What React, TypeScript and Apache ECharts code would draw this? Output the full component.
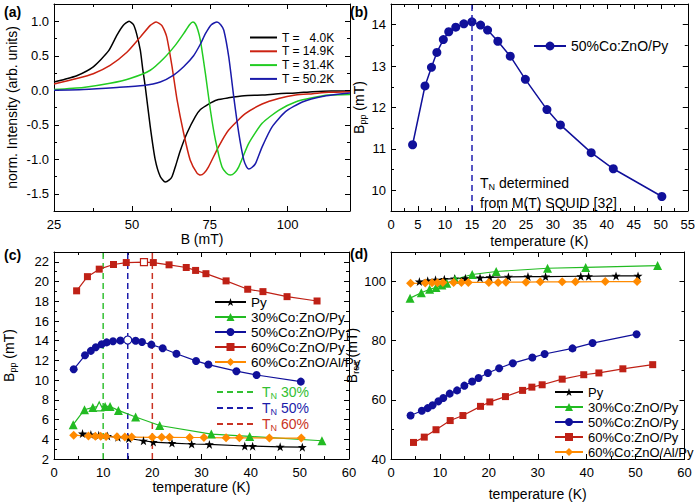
import React, { useEffect, useRef } from 'react';
import * as echarts from 'echarts';

// ---------- Panel (a): normalized FMR spectra ----------
const b4K = [25, 28.5, 32.3, 37.6, 42.5, 45.2, 47.2, 49.1, 50.5, 51.5, 52.7, 53.5, 54.3, 55.9, 57.5, 59.1, 60.7, 62.0, 62.9, 64.0, 65.5, 67.7, 70.4, 72.0, 74.6, 77.3, 81.0, 86.0, 91.8, 97.0, 102.5, 108, 114, 120];
const i4K = [0.12, 0.16, 0.21, 0.34, 0.57, 0.80, 0.94, 1.00, 0.95, 0.82, 0.58, 0.30, 0.05, -0.53, -1.01, -1.25, -1.33, -1.30, -1.25, -1.10, -0.88, -0.62, -0.38, -0.28, -0.20, -0.14, -0.11, -0.08, -0.07, -0.05, -0.04, -0.02, -0.01, -0.01];
const b15K = [25, 32.3, 37.6, 43.0, 48.4, 52.7, 55.9, 57.8, 59.6, 60.5, 61.2, 62.0, 62.9, 64.5, 66.6, 68.7, 70.9, 72.0, 73.2, 74.6, 77.8, 81.0, 86.4, 91.8, 97.1, 102.5, 108, 113.2, 120];
const i15K = [0.09, 0.17, 0.24, 0.36, 0.55, 0.77, 0.94, 0.99, 0.94, 0.86, 0.77, 0.58, 0.34, -0.14, -0.62, -1.01, -1.20, -1.23, -1.20, -1.11, -0.82, -0.58, -0.34, -0.20, -0.12, -0.07, -0.05, -0.03, -0.02];
const b31K = [25, 34.4, 43.0, 49.4, 55.9, 60.2, 63.9, 66.6, 68.5, 69.6, 70.4, 71.2, 72.0, 73.6, 75.2, 76.8, 78.9, 80.3, 81.6, 82.9, 84.3, 87.5, 91.8, 97.1, 102.5, 107.9, 113.2, 120];
const i31K = [0.01, 0.04, 0.10, 0.17, 0.29, 0.46, 0.65, 0.82, 0.95, 0.99, 0.96, 0.87, 0.72, 0.24, -0.29, -0.72, -1.11, -1.20, -1.23, -1.20, -1.11, -0.77, -0.48, -0.29, -0.17, -0.11, -0.07, -0.06];
const b50K = [25, 34.4, 45.2, 53.7, 59.1, 63.4, 66.6, 69.8, 72.0, 73.6, 75.5, 77.3, 78.5, 79.5, 81.1, 82.7, 84.3, 85.9, 86.8, 87.5, 88.5, 89.7, 91.8, 95.0, 99.3, 104.7, 111.1, 120];
const i50K = [0.00, 0.01, 0.04, 0.07, 0.12, 0.22, 0.34, 0.50, 0.67, 0.82, 0.95, 0.99, 0.95, 0.87, 0.48, -0.10, -0.62, -1.01, -1.11, -1.14, -1.12, -1.06, -0.82, -0.53, -0.31, -0.17, -0.09, -0.04];
const spectraNames = ['T =\u00a0\u00a0\u00a04.0K', 'T = 14.9K', 'T = 31.4K', 'T = 50.2K'];

// ---------- Panels (b)-(d): temperature dependences ----------
const temp50 = [4.0, 6.3, 7.5, 8.5, 9.7, 10.7, 12.0, 13.5, 15.0, 16.6, 17.9, 19.8, 22.1, 24.9, 28.9, 31.4, 37.1, 41.2, 50.2];
const bpp50 = [11.10, 12.52, 12.97, 13.33, 13.64, 13.83, 13.94, 14.02, 14.07, 13.99, 13.87, 13.60, 13.24, 12.68, 11.95, 11.58, 10.91, 10.52, 9.85];
const bres50 = [54.7, 56.3, 57.2, 58.2, 59.5, 60.6, 62.1, 63.2, 64.8, 66.2, 67.4, 69.1, 70.7, 72.4, 74.3, 75.5, 77.4, 79.2, 82.2];

const tempPy = [5.8, 7.5, 9.1, 10.9, 13.0, 15.2, 18.2, 20.2, 24.0, 28.0, 31.6, 38.8, 40.4, 46.0, 50.5];
const bppPy = [4.58, 4.48, 4.40, 4.33, 4.20, 4.08, 3.85, 3.72, 3.62, 3.52, 3.48, 3.32, 3.30, 3.24, 3.20];
const bresPy = [100.0, 100.3, 100.6, 100.8, 101.0, 101.1, 101.3, 101.4, 101.6, 101.7, 101.7, 101.8, 101.8, 101.9, 101.9];

const temp30 = [3.9, 6.2, 7.9, 9.2, 10.4, 11.4, 13.1, 16.6, 21.5, 32.0, 39.8, 54.5];
const bpp30 = [5.48, 7.00, 7.23, 7.33, 7.33, 7.33, 6.93, 6.26, 5.40, 4.53, 4.29, 3.85];
const bres30 = [94.4, 96.2, 97.4, 98.0, 98.8, 99.4, 100.8, 102.4, 103.4, 104.5, 104.8, 105.4];

const temp60 = [4.6, 6.8, 9.2, 12.1, 14.7, 18.3, 20.2, 23.4, 26.9, 28.8, 30.9, 35.0, 39.4, 42.5, 47.4, 53.5];
const bpp60 = [19.06, 20.50, 21.26, 21.73, 21.93, 21.97, 21.93, 21.70, 21.43, 21.13, 20.80, 20.07, 19.22, 18.98, 18.47, 18.03];
const bres60 = [45.6, 47.4, 49.9, 53.0, 54.7, 57.8, 59.3, 61.1, 63.2, 64.3, 65.1, 67.0, 68.5, 69.1, 70.5, 71.9];

const tempAl = [4.0, 7.0, 8.4, 9.5, 10.6, 12.8, 14.4, 15.8, 20.0, 21.9, 23.5, 27.6, 30.5, 35.0, 37.7, 43.8, 50.3];
const bppAl = [4.42, 4.33, 4.30, 4.30, 4.28, 4.25, 4.22, 4.22, 4.20, 4.20, 4.20, 4.18, 4.18, 4.15, 4.15, 4.12, 4.12];
const bresAl = [99.4, 99.5, 99.6, 99.6, 99.7, 99.7, 99.7, 99.7, 99.7, 99.7, 99.8, 99.8, 99.9, 99.9, 99.9, 100.0, 100.0];

// open (maximum) markers in panel (c)
const open30 = 3;
const open50 = 8;
const open60 = 5;

// Neel temperatures
const tnTemps = [10, 15, 20];
const tnNames = ['TN30', 'TN50', 'TN60'];
const tnLabels = ['30%', '50%', '60%'];
const tnB = 15;

const seriesNames = ['Py', '30%Co:ZnO/Py', '50%Co:ZnO/Py', '60%Co:ZnO/Py', '60%Co:ZnO/Al/Py'];

// tick labels
const ticksAx = [25, 50, 75, 100];
const ticksAy = [-1.5, -1.0, -0.5, 0.0, 0.5, 1.0];
const ticksBx = [0, 5, 10, 15, 20, 25, 30, 35, 40, 45, 50, 55];
const ticksBy = [10, 11, 12, 13, 14];
const ticksCx = [0, 10, 20, 30, 40, 50, 60];
const ticksCy = [2, 4, 6, 8, 10, 12, 14, 16, 18, 20, 22];
const ticksDy = [40, 60, 80, 100];

const FONT = "'Liberation Sans', Arial, Helvetica, sans-serif";
const C_BLACK = '#000000';
const C_GREEN = '#22bb22';
const C_BLUE = '#10109a';
const C_RED = '#bf2116';
const C_ORANGE = '#ff8a00';
const STAR = 'path://M50,2 L61.8,38.2 L100,38.2 L69.1,61.8 L80.9,98 L50,75.6 L19.1,98 L30.9,61.8 L0,38.2 L38.2,38.2 Z';

const subRich = {
  m: { fontSize: 14, fontFamily: FONT, color: '#000', lineHeight: 16 },
  s: { fontSize: 9, fontFamily: FONT, color: '#000', lineHeight: 8, verticalAlign: 'bottom' },
};

function buildAxes(dim: 'x' | 'y', grid: number, min: number, max: number, minor: number, majors: number[], fmt: (v: number) => string, nameOpt: any) {
  const positions = dim === 'x' ? ['bottom', 'top'] : ['left', 'right'];
  const isMajor = (v: number) => majors.some((m) => Math.abs(m - v) < 1e-6);
  const axes: any[] = [];
  positions.forEach((p, side) => {
    axes.push({
      type: 'value', gridIndex: grid, position: p, min, max, interval: minor,
      axisLine: { show: true, onZero: false, lineStyle: { color: '#000', width: 1 } },
      axisTick: { show: true, inside: true, length: 3, lineStyle: { color: '#000', width: 1 } },
      splitLine: { show: false },
      axisLabel: side === 0
        ? { show: true, color: '#000', fontSize: 13, fontFamily: FONT, margin: dim === 'x' ? 7 : 5, formatter: (v: number) => (isMajor(v) ? fmt(v) : '') }
        : { show: false },
      ...(side === 0 ? nameOpt : {}),
    });
    axes.push({
      type: 'value', gridIndex: grid, position: p, min, max, interval: minor,
      axisLine: { show: false, onZero: false },
      axisTick: { show: true, inside: true, length: 5, customValues: majors, lineStyle: { color: '#000', width: 1 } },
      axisLabel: { show: false },
      splitLine: { show: false },
    });
  });
  return axes;
}

const xName = (name: string, gap: number) => ({
  name, nameLocation: 'middle', nameGap: gap,
  nameTextStyle: { color: '#000', fontSize: 14, fontFamily: FONT },
});
const yName = (name: string, gap: number) => ({
  name, nameLocation: 'middle', nameGap: gap,
  nameTextStyle: { color: '#000', fontSize: 14, fontFamily: FONT, rich: subRich },
});

const pairs = (xs: number[], ys: number[]) => xs.map((x, i) => [x, ys[i]]);
const pairsOpen = (xs: number[], ys: number[], openIdx: number, color: string) =>
  xs.map((x, i) => (i === openIdx ? { value: [x, ys[i]], itemStyle: { color: '#ffffff', borderColor: color, borderWidth: 1.2 } } : [x, ys[i]]));

function pointSeries(name: string, panel: number, data: any[], symbol: string, size: number, color: string, lw = 1.2) {
  return {
    type: 'line', name, xAxisIndex: panel * 4, yAxisIndex: panel * 4, data,
    symbol, symbolSize: size, showSymbol: true,
    lineStyle: { color, width: lw }, itemStyle: { color },
    emphasis: { disabled: true }, z: 3,
  };
}

function spectrum(name: string, xs: number[], ys: number[], color: string) {
  return {
    type: 'line', name, xAxisIndex: 0, yAxisIndex: 0, data: pairs(xs, ys),
    symbol: 'none', showSymbol: false, smooth: 0.2,
    lineStyle: { color, width: 1.5 }, itemStyle: { color },
    emphasis: { disabled: true },
  };
}

const tnColors = ['#33c033', '#1c1caa', '#c93324'];
const tnTextKeys = ['g', 'b', 'r'];

function buildOption() {
  const xAxis = [
    ...buildAxes('x', 0, 25, 120, 12.5, ticksAx, (v) => String(v), xName('B (mT)', 21)),
    ...buildAxes('x', 1, 0, 55, 2.5, ticksBx, (v) => String(v), xName('temperature (K)', 23)),
    ...buildAxes('x', 2, 0, 60, 5, ticksCx, (v) => String(v), xName('temperature (K)', 20)),
    ...buildAxes('x', 3, 0, 60, 5, ticksCx, (v) => String(v), xName('temperature (K)', 28)),
  ];
  const yAxis = [
    ...buildAxes('y', 0, -1.75, 1.25, 0.25, ticksAy, (v) => v.toFixed(1), {
      name: 'norm. Intensity (arb. units)', nameLocation: 'middle', nameGap: 35,
      nameTextStyle: { color: '#000', fontSize: 14, fontFamily: FONT },
    }),
    ...buildAxes('y', 1, 9.5, 14.5, 0.5, ticksBy, (v) => String(v), yName('{m|B}{s|pp}{m| (mT)}', 24)),
    ...buildAxes('y', 2, 2, 23, 1, ticksCy, (v) => String(v), yName('{m|B}{s|pp}{m| (mT)}', 37)),
    ...buildAxes('y', 3, 40, 110, 10, ticksDy, (v) => String(v), yName('{m|B}{s|res}{m| (mT)}', 27)),
  ];

  const tnSeries = tnTemps.map((t, i) => ({
    type: 'line', name: tnNames[i], xAxisIndex: 8, yAxisIndex: 8,
    data: [[t, 2], [t, 23]], symbol: 'none', showSymbol: false,
    lineStyle: { color: tnColors[i], width: 1.5, type: [6, 4] }, itemStyle: { color: tnColors[i] },
    emphasis: { disabled: true }, z: 2,
  }));

  const series: any[] = [
    spectrum(spectraNames[0], b4K, i4K, '#000000'),
    spectrum(spectraNames[1], b15K, i15K, '#cc2211'),
    spectrum(spectraNames[2], b31K, i31K, '#22cc22'),
    spectrum(spectraNames[3], b50K, i50K, '#1a1aaa'),
    {
      ...pointSeries(seriesNames[2], 1, pairs(temp50, bpp50), 'circle', 9, C_BLUE, 1.5),
      markLine: {
        silent: true, symbol: ['none', 'none'], label: { show: false },
        lineStyle: { color: '#1f1fb0', width: 1.5, type: [6, 4] },
        data: [{ xAxis: tnB }],
      },
    },
    ...tnSeries,
    pointSeries(seriesNames[0], 2, pairs(tempPy, bppPy), STAR, 9, C_BLACK),
    pointSeries(seriesNames[1], 2, pairsOpen(temp30, bpp30, open30, C_GREEN), 'triangle', 9, C_GREEN),
    pointSeries(seriesNames[2], 2, pairsOpen(temp50, bpp50, open50, C_BLUE), 'circle', 8, C_BLUE),
    pointSeries(seriesNames[3], 2, pairsOpen(temp60, bpp60, open60, C_RED), 'rect', 7, C_RED),
    pointSeries(seriesNames[4], 2, pairs(tempAl, bppAl), 'diamond', 9, C_ORANGE),
    pointSeries(seriesNames[0], 3, pairs(tempPy, bresPy), STAR, 9, C_BLACK),
    pointSeries(seriesNames[1], 3, pairs(temp30, bres30), 'triangle', 9, C_GREEN),
    pointSeries(seriesNames[2], 3, pairs(temp50, bres50), 'circle', 8, C_BLUE),
    pointSeries(seriesNames[3], 3, pairs(temp60, bres60), 'rect', 7, C_RED),
    pointSeries(seriesNames[4], 3, pairs(tempAl, bresAl), 'diamond', 9, C_ORANGE),
  ];

  const legendText = { color: '#000', fontSize: 13.5, fontFamily: FONT, lineHeight: 14 };
  const tnRich: any = {};
  tnTextKeys.forEach((k, i) => {
    tnRich[k] = { fontSize: 14, fontFamily: FONT, color: tnColors[i], lineHeight: 16 };
    tnRich[k + 's'] = { fontSize: 9, fontFamily: FONT, color: tnColors[i], lineHeight: 8, verticalAlign: 'bottom' };
  });

  const legend = [
    {
      left: 244, top: 26.5, orient: 'vertical', itemWidth: 27, itemHeight: 10, itemGap: 1.8,
      selectedMode: false, data: spectraNames,
      itemStyle: { opacity: 0 },
      textStyle: { color: '#000', fontSize: 12, fontFamily: FONT, lineHeight: 12 },
    },
    {
      left: 528, top: 34, orient: 'vertical', itemWidth: 32, itemHeight: 11,
      selectedMode: false, data: [seriesNames[2]], textStyle: { ...legendText, fontSize: 14 },
    },
    {
      left: 209, top: 290, orient: 'vertical', itemWidth: 31, itemHeight: 10, itemGap: 1,
      selectedMode: false, data: seriesNames, textStyle: legendText,
    },
    {
      left: 211, top: 380, orient: 'vertical', itemWidth: 40, itemHeight: 10, itemGap: 1,
      selectedMode: false, data: tnNames,
      itemStyle: { opacity: 0 },
      formatter: (name: string) => {
        const i = tnNames.indexOf(name);
        const k = tnTextKeys[i];
        return `{${k}|T}{${k}s|N}{${k}| ${tnLabels[i]}}`;
      },
      textStyle: { fontSize: 14, fontFamily: FONT, rich: tnRich },
    },
    {
      left: 549, top: 380, orient: 'vertical', itemWidth: 28, itemHeight: 10, itemGap: 1,
      selectedMode: false, data: seriesNames, textStyle: { ...legendText, fontSize: 13 },
    },
  ];

  const panelLabel = (text: string, x: number, y: number) => ({
    type: 'text', x, y, silent: true,
    style: { text, fontSize: 14, fontWeight: 'bold', fontFamily: FONT, fill: '#000', verticalAlign: 'middle' },
  });

  const graphic = [
    panelLabel('(a)', 4, 12),
    panelLabel('(b)', 350, 12),
    panelLabel('(c)', 4, 255),
    panelLabel('(d)', 350, 254),
    {
      type: 'text', x: 480, y: 183, silent: true,
      style: { text: '{m|T}{s|N}{m| determined}', rich: subRich, fill: '#000', verticalAlign: 'middle', fontSize: 14, fontFamily: FONT },
    },
    {
      type: 'text', x: 480, y: 203, silent: true,
      style: { text: 'from M(T) SQUID [32]', fill: '#000', verticalAlign: 'middle', fontSize: 14, fontFamily: FONT },
    },
  ];

  return {
    animation: false,
    backgroundColor: '#ffffff',
    textStyle: { fontFamily: FONT },
    grid: [
      { left: 54, top: 4, width: 296, height: 207 },
      { left: 391, top: 4, width: 297, height: 207 },
      { left: 54, top: 252, width: 295, height: 207 },
      { left: 391, top: 252, width: 293.5, height: 207 },
    ],
    xAxis, yAxis, series, legend, graphic,
  };
}

export default function App() {
  const ref = useRef<HTMLDivElement>(null);
  useEffect(() => {
    if (!ref.current) return;
    const chart = echarts.init(ref.current, undefined, { renderer: 'svg' });
    chart.setOption(buildOption() as any);
    return () => chart.dispose();
  }, []);
  return <div ref={ref} style={{ position: 'absolute', left: 0, top: 0, width: 698, height: 504, background: '#fff' }} />;
}
